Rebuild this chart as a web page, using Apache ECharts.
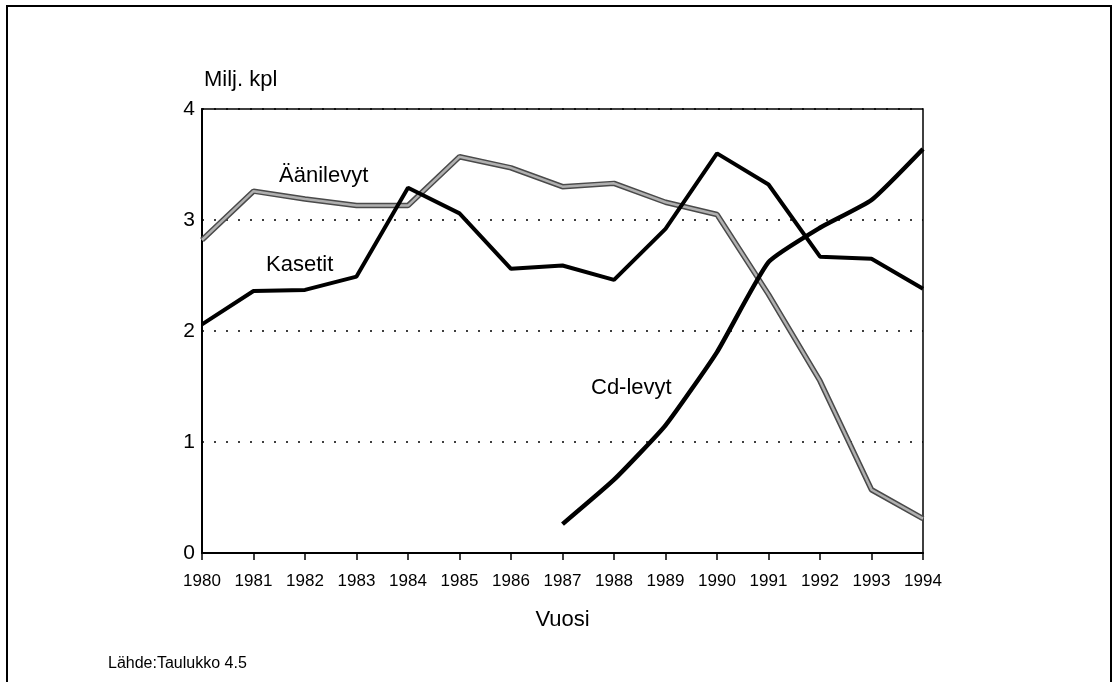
<!DOCTYPE html>
<html>
<head>
<meta charset="utf-8">
<script src="https://cdn.jsdelivr.net/npm/echarts@6/dist/echarts.min.js"></script>
<style>
  html, body { margin: 0; padding: 0; background: #fff; }
  #chart { width: 1118px; height: 682px; }
</style>
</head>
<body>
<div id="chart"></div>
<script>
var years = ['1980', '1981', '1982', '1983', '1984', '1985', '1986', '1987',
             '1988', '1989', '1990', '1991', '1992', '1993', '1994'];

// Milj. kpl
var aanilevyt = [2.82, 3.26, 3.19, 3.13, 3.13, 3.57, 3.47, 3.30, 3.33, 3.16, 3.05, 2.33, 1.55, 0.57, 0.31];
var kasetit   = [2.06, 2.36, 2.37, 2.49, 3.29, 3.06, 2.56, 2.59, 2.46, 2.92, 3.60, 3.32, 2.67, 2.65, 2.38];
var cdLevyt   = [null, null, null, null, null, null, null, 0.26, 0.66, 1.15, 1.81, 2.62, 2.93, 3.18, 3.64];

var yTicks = [0, 1, 2, 3, 4];

var fontFam = 'Liberation Sans, Arial, sans-serif';

function ChartLoad() {
    var dom = document.getElementById('chart');
    var chart = echarts.init(dom, null, { renderer: 'canvas' });

    var option = {
        backgroundColor: '#fff',
        animation: false,
        textStyle: { fontFamily: fontFam, color: '#000' },
        grid: {
            left: 202,
            right: 195,
            top: 109,
            bottom: 129,
            show: true,
            borderColor: '#000',
            borderWidth: 1.5
        },
        xAxis: {
            type: 'category',
            data: years,
            boundaryGap: false,
            name: 'Vuosi',
            nameLocation: 'middle',
            nameGap: 56,
            nameTextStyle: { fontSize: 22, color: '#000', fontFamily: fontFam },
            axisLine: { show: true, lineStyle: { color: '#000', width: 2 } },
            axisTick: { show: true, length: 7, inside: false, lineStyle: { color: '#000', width: 1.5 } },
            axisLabel: { fontSize: 17, color: '#000', margin: 20, fontFamily: fontFam },
            splitLine: { show: false }
        },
        yAxis: {
            type: 'value',
            min: yTicks[0],
            max: yTicks[yTicks.length - 1],
            interval: 1,
            axisLine: { show: true, lineStyle: { color: '#000', width: 2 } },
            axisTick: { show: false },
            axisLabel: { fontSize: 21, color: '#000', margin: 7, fontFamily: fontFam },
            splitLine: {
                show: true,
                lineStyle: { color: '#000', width: 1.5, type: [2, 10] }
            }
        },
        graphic: [
            {
                type: 'rect',
                shape: { x: 7, y: 6, width: 1104, height: 700 },
                style: { fill: null, stroke: '#000', lineWidth: 2 },
                silent: true
            },
            {
                type: 'text', left: 204, top: 69,
                style: { text: 'Milj. kpl', font: '22px ' + fontFam, fill: '#000' }
            },
            {
                type: 'text', left: 279, top: 165,
                style: { text: 'Äänilevyt', font: '22px ' + fontFam, fill: '#000' }
            },
            {
                type: 'text', left: 266, top: 254,
                style: { text: 'Kasetit', font: '22px ' + fontFam, fill: '#000' }
            },
            {
                type: 'text', left: 591, top: 377,
                style: { text: 'Cd-levyt', font: '22px ' + fontFam, fill: '#000' }
            },
            {
                type: 'text', left: 108, top: 656,
                style: { text: 'Lähde:Taulukko 4.5', font: '16px ' + fontFam, fill: '#000' }
            }
        ],
        series: [
            {
                name: 'Äänilevyt',
                type: 'line',
                data: aanilevyt,
                symbol: 'none',
                lineStyle: { color: '#4a4a4a', width: 5.5 },
                z: 2
            },
            {
                name: 'Äänilevyt',
                type: 'line',
                data: aanilevyt,
                symbol: 'none',
                lineStyle: { color: '#b0b0b0', width: 2.5 },
                z: 3
            },
            {
                name: 'Kasetit',
                type: 'line',
                data: kasetit,
                symbol: 'none',
                lineStyle: { color: '#000', width: 4 },
                z: 4
            },
            {
                name: 'Cd-levyt',
                type: 'line',
                data: cdLevyt,
                symbol: 'none',
                smooth: 0.15,
                lineStyle: { color: '#000', width: 4.5 },
                z: 4
            }
        ]
    };

    chart.setOption(option, true);
}

ChartLoad();
</script>
</body>
</html>
